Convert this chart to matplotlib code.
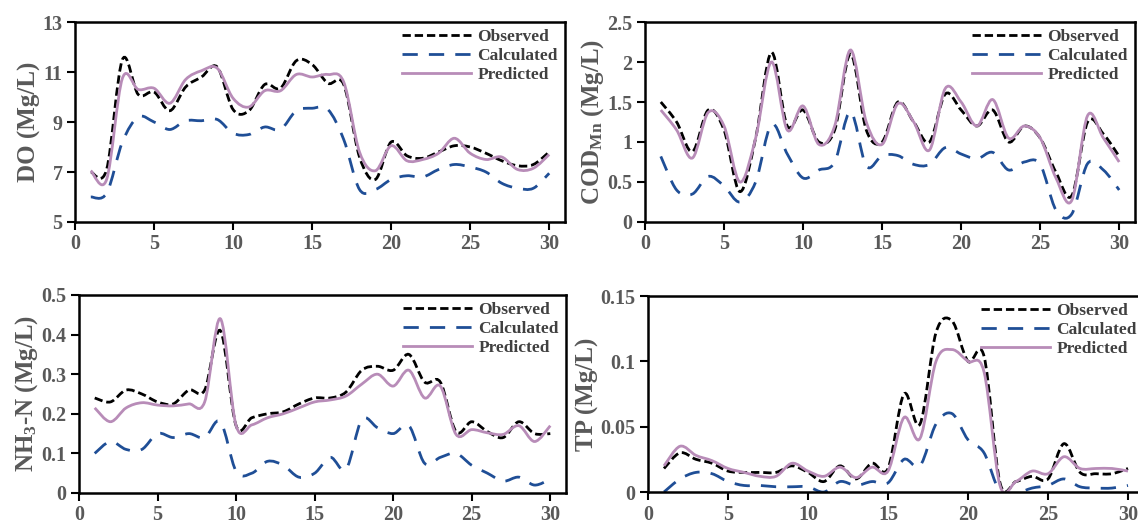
import numpy as np
import matplotlib
matplotlib.use("Agg")
import matplotlib.pyplot as plt
from matplotlib.path import Path
from matplotlib.patches import PathPatch
from matplotlib.lines import Line2D
from matplotlib.ticker import FuncFormatter

# -------------------------
# Data
# -------------------------
days = np.arange(1, 31)

do_obs = [7.0, 7.1, 11.5, 10.1, 10.2, 9.45, 10.4, 10.8, 11.2, 9.5,
          9.45, 10.5, 10.35, 11.45, 11.3, 10.55, 10.5, 7.6, 6.7, 8.2,
          7.65, 7.55, 7.8, 8.05, 8.0, 7.75, 7.45, 7.25, 7.3, 7.8]
do_cal = [6.0, 6.15, 8.2, 9.2, 9.0, 8.7, 9.05, 9.05, 9.1, 8.55,
          8.5, 8.8, 8.7, 9.45, 9.55, 9.5, 8.3, 6.3, 6.3, 6.7,
          6.85, 6.8, 7.1, 7.3, 7.2, 7.0, 6.55, 6.35, 6.35, 6.95]
do_pre = [7.05, 6.7, 10.75, 10.3, 10.35, 9.75, 10.7, 11.05, 11.15, 9.95,
          9.6, 10.25, 10.25, 10.9, 10.8, 10.9, 10.6, 7.8, 7.05, 8.05,
          7.45, 7.5, 7.75, 8.35, 7.75, 7.5, 7.6, 7.1, 7.15, 7.7]

cod_obs = [1.5, 1.25, 0.88, 1.4, 1.15, 0.38, 1.05, 2.12, 1.2, 1.4,
           1.0, 1.15, 2.1, 1.15, 1.0, 1.5, 1.25, 1.0, 1.6, 1.4,
           1.2, 1.4, 1.0, 1.2, 1.05, 0.62, 0.33, 1.25, 1.1, 0.82]
cod_cal = [0.82, 0.4, 0.35, 0.57, 0.45, 0.25, 0.5, 1.22, 0.85, 0.55,
           0.65, 0.75, 1.38, 0.7, 0.83, 0.83, 0.72, 0.72, 0.93, 0.85,
           0.79, 0.87, 0.65, 0.75, 0.72, 0.15, 0.1, 0.73, 0.65, 0.4]
cod_pre = [1.4, 1.15, 0.8, 1.37, 1.2, 0.5, 1.05, 2.0, 1.15, 1.45,
           0.97, 1.2, 2.15, 1.25, 0.97, 1.48, 1.25, 0.9, 1.67, 1.5,
           1.2, 1.53, 1.05, 1.2, 1.05, 0.55, 0.27, 1.33, 1.05, 0.75]

nh3_obs = [0.24, 0.23, 0.26, 0.25, 0.23, 0.225, 0.26, 0.26, 0.41, 0.17,
           0.19, 0.2, 0.205, 0.225, 0.24, 0.24, 0.255, 0.31, 0.32, 0.31,
           0.35, 0.28, 0.28, 0.155, 0.18, 0.155, 0.14, 0.18, 0.15, 0.15]
nh3_cal = [0.1, 0.13, 0.11, 0.11, 0.15, 0.14, 0.15, 0.14, 0.18, 0.055,
           0.05, 0.08, 0.07, 0.04, 0.05, 0.09, 0.06, 0.185, 0.165, 0.15,
           0.17, 0.075, 0.09, 0.1, 0.07, 0.05, 0.03, 0.04, 0.02, 0.035]
nh3_pre = [0.215, 0.18, 0.215, 0.228, 0.222, 0.22, 0.225, 0.23, 0.44, 0.17,
           0.172, 0.19, 0.2, 0.215, 0.23, 0.235, 0.245, 0.275, 0.3, 0.27,
           0.31, 0.24, 0.27, 0.148, 0.16, 0.152, 0.148, 0.17, 0.13, 0.17]

tp_obs = [0.018, 0.03, 0.025, 0.022, 0.016, 0.015, 0.015, 0.015, 0.02, 0.015,
          0.008, 0.02, 0.01, 0.022, 0.018, 0.075, 0.052, 0.122, 0.131, 0.1,
          0.104, 0.007, 0.008, 0.012, 0.01, 0.037, 0.015, 0.014, 0.014, 0.018]
tp_cal = [0.0, 0.01, 0.015, 0.014, 0.008, 0.005, 0.005, 0.004, 0.004, 0.004,
          0.0, 0.008, 0.005, 0.008, 0.007, 0.025, 0.02, 0.052, 0.06, 0.04,
          0.03, 0.0, -0.001, 0.003, 0.005, 0.01, 0.004, 0.003, 0.003, 0.005]
tp_pre = [0.02, 0.035, 0.028, 0.024, 0.018, 0.015, 0.012, 0.012, 0.022, 0.016,
          0.012, 0.019, 0.011, 0.019, 0.016, 0.057, 0.041, 0.1, 0.109, 0.1,
          0.092, 0.005, 0.008, 0.016, 0.014, 0.027, 0.018, 0.018, 0.018, 0.016]

series_names = ["Observed", "Calculated", "Predicted"]

panels = [
    ("DO (Mg/L)", (5, 13), [5, 7, 9, 11, 13], do_obs, do_cal, do_pre),
    (r"COD$_{\mathbf{Mn}}$ (Mg/L)", (0, 2.5), [0, 0.5, 1, 1.5, 2, 2.5], cod_obs, cod_cal, cod_pre),
    (r"NH$_{\mathbf{3}}$-N (Mg/L)", (0, 0.5), [0, 0.1, 0.2, 0.3, 0.4, 0.5], nh3_obs, nh3_cal, nh3_pre),
    ("TP (Mg/L)", (0, 0.15), [0, 0.05, 0.1, 0.15], tp_obs, tp_cal, tp_pre),
]

# -------------------------
# Style
# -------------------------
plt.rcParams["font.family"] = ["Liberation Serif", "DejaVu Serif"]
plt.rcParams["font.weight"] = "bold"
plt.rcParams["mathtext.fontset"] = "custom"
plt.rcParams["mathtext.rm"] = "Liberation Serif:bold"
plt.rcParams["mathtext.bf"] = "Liberation Serif:bold"
plt.rcParams["mathtext.default"] = "bf"

gray = "#595959"
styles = [
    dict(color="#000000", lw=2.0, ls=(0, (3.0, 1.4))),
    dict(color="#1f4e96", lw=2.0, ls=(0, (5.5, 4.0))),
    dict(color="#b88cb8", lw=2.0, ls="-"),
]


def smooth_path(x, y):
    # Excel-like smoothed line: cubic Bezier through every point
    x = list(x)
    y = list(y)
    n = len(x)
    verts = [(x[0], y[0])]
    codes = [Path.MOVETO]
    for i in range(n - 1):
        xa, ya = (x[i - 1], y[i - 1]) if i > 0 else (x[i], y[i])
        xb, yb = (x[i + 2], y[i + 2]) if i + 2 < n else (x[i + 1], y[i + 1])
        c1 = (x[i] + (x[i + 1] - xa) / 6, y[i] + (y[i + 1] - ya) / 6)
        c2 = (x[i + 1] - (xb - x[i]) / 6, y[i + 1] - (yb - y[i]) / 6)
        verts += [c1, c2, (x[i + 1], y[i + 1])]
        codes += [Path.CURVE4] * 3
    return Path(verts, codes)


fig = plt.figure(figsize=(11.38, 5.26), dpi=100)

W, H = 1138.0, 526.0
boxes = [
    (75, 565, 22, 222),
    (645, 1135, 22, 222),
    (79, 566, 295, 493),
    (648, 1144, 296, 492),
]

for (ylab, ylim, yticks, obs, cal, pre), (l, r, t, b) in zip(panels, boxes):
    ax = fig.add_axes([l / W, 1 - b / H, (r - l) / W, (b - t) / H])
    vals = [obs, cal, pre]
    for k in [1, 2, 0]:
        st = styles[k]
        ax.add_patch(PathPatch(smooth_path(days, vals[k]), fill=False,
                               edgecolor=st["color"], lw=st["lw"],
                               linestyle=st["ls"], zorder=2 + k * 0.1))
    handles = [Line2D([], [], color=st["color"], lw=st["lw"], ls=st["ls"])
               for st in styles]
    ax.set_xlim(0, 31)
    ax.set_ylim(*ylim)
    ax.set_xticks(np.arange(0, 31, 5))
    ax.set_yticks(yticks)
    ax.yaxis.set_major_formatter(FuncFormatter(lambda v, p: "%g" % v))
    ax.tick_params(direction="out", length=6, width=1.5, labelsize=14.5,
                   labelcolor=gray, pad=3)
    for lab in ax.get_xticklabels() + ax.get_yticklabels():
        lab.set_fontweight("bold")
    for sp in ax.spines.values():
        sp.set_linewidth(1.8)
        sp.set_color("black")
    ax.set_ylabel(ylab, fontsize=18, fontweight="bold", color=gray, labelpad=1)
    leg = ax.legend(handles, series_names, loc="upper right",
                    bbox_to_anchor=(1.0, 1.0), frameon=False, fontsize=12.5,
                    handlelength=4.0, handletextpad=0.35, labelspacing=0.15,
                    borderaxespad=0.2, borderpad=0.2)
    for txt in leg.get_texts():
        txt.set_color("#404040")
        txt.set_fontweight("bold")

fig.savefig("out.png", dpi=100)
plt.close(fig)
